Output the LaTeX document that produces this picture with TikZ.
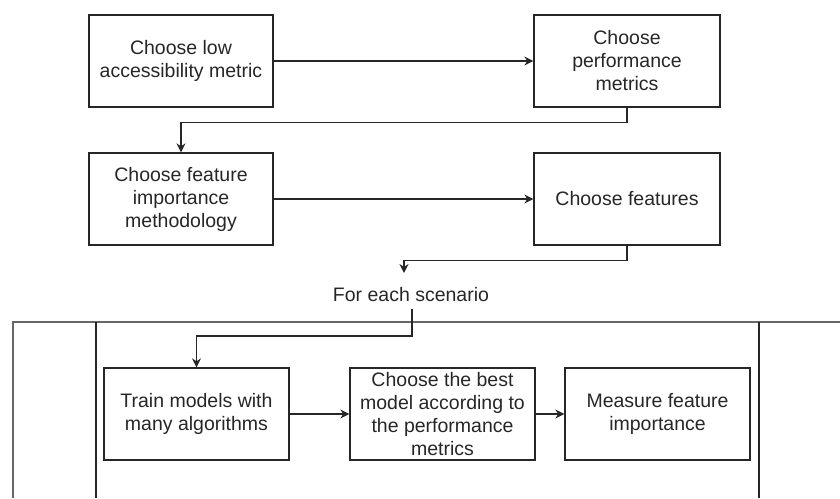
\documentclass[tikz,border=0pt]{standalone}
\usepackage{fontspec}
\setmainfont{Liberation Sans}
\usetikzlibrary{arrows.meta}

\begin{document}
\begin{tikzpicture}[x=1pt,y=-1pt,
  line/.style={draw=black!85, line width=1.3pt},
  arr/.style={line, -{Stealth[length=9pt,width=9pt]}},
  stepbox/.style={line, rectangle, minimum height=92pt, inner sep=0pt,
    align=center, text=black!85, font=\fontsize{19.5}{23}\selectfont},
  lbl/.style={inner sep=0pt, text=black!85, font=\fontsize{19.5}{23}\selectfont}]
\useasboundingbox (0,0) rectangle (840,498);

% upper chain of choices
\node[stepbox, minimum width=184pt] (b1) at (181,61) {Choose low\\accessibility metric};
\node[stepbox, minimum width=186pt] (b2) at (627,61) {Choose\\performance\\metrics};
\node[stepbox, minimum width=184pt] (b3) at (181,199) {Choose feature\\importance\\methodology};
\node[stepbox, minimum width=186pt] (b4) at (627,199) {Choose features};

% loop label
\node[lbl] (scen) at (411,295) {For each scenario};
\coordinate (scenin) at (404,273);
\coordinate (scenout) at (412,309);

% loop container
\draw[line, draw=black!60] (13,498) -- (13,322) -- (840,322);
\draw[line] (96,322) -- (96,498);
\draw[line] (759,322) -- (759,498);

% steps inside the loop
\node[stepbox, minimum width=185pt] (b5) at (196.5,414) {Train models with\\many algorithms};
\node[stepbox, minimum width=185pt] (b6) at (442.5,414) {Choose the best\\model according to\\the performance\\metrics};
\node[stepbox, minimum width=185pt] (b7) at (657.5,414) {Measure feature\\importance};

% connectors
\draw[arr] (b1.east) -- (b2.west);
\draw[arr] (b2.south) -- ++(0,15) -| (b3.north);
\draw[arr] (b3.east) -- (b4.west);
\draw[arr] (b4.south) -- ++(0,15) -| (scenin);
\draw[arr] (scenout) -- ++(0,27) -| (b5.north);
\draw[arr] (b5.east) -- (b6.west);
\draw[arr] (b6.east) -- (b7.west);
\end{tikzpicture}
\end{document}
